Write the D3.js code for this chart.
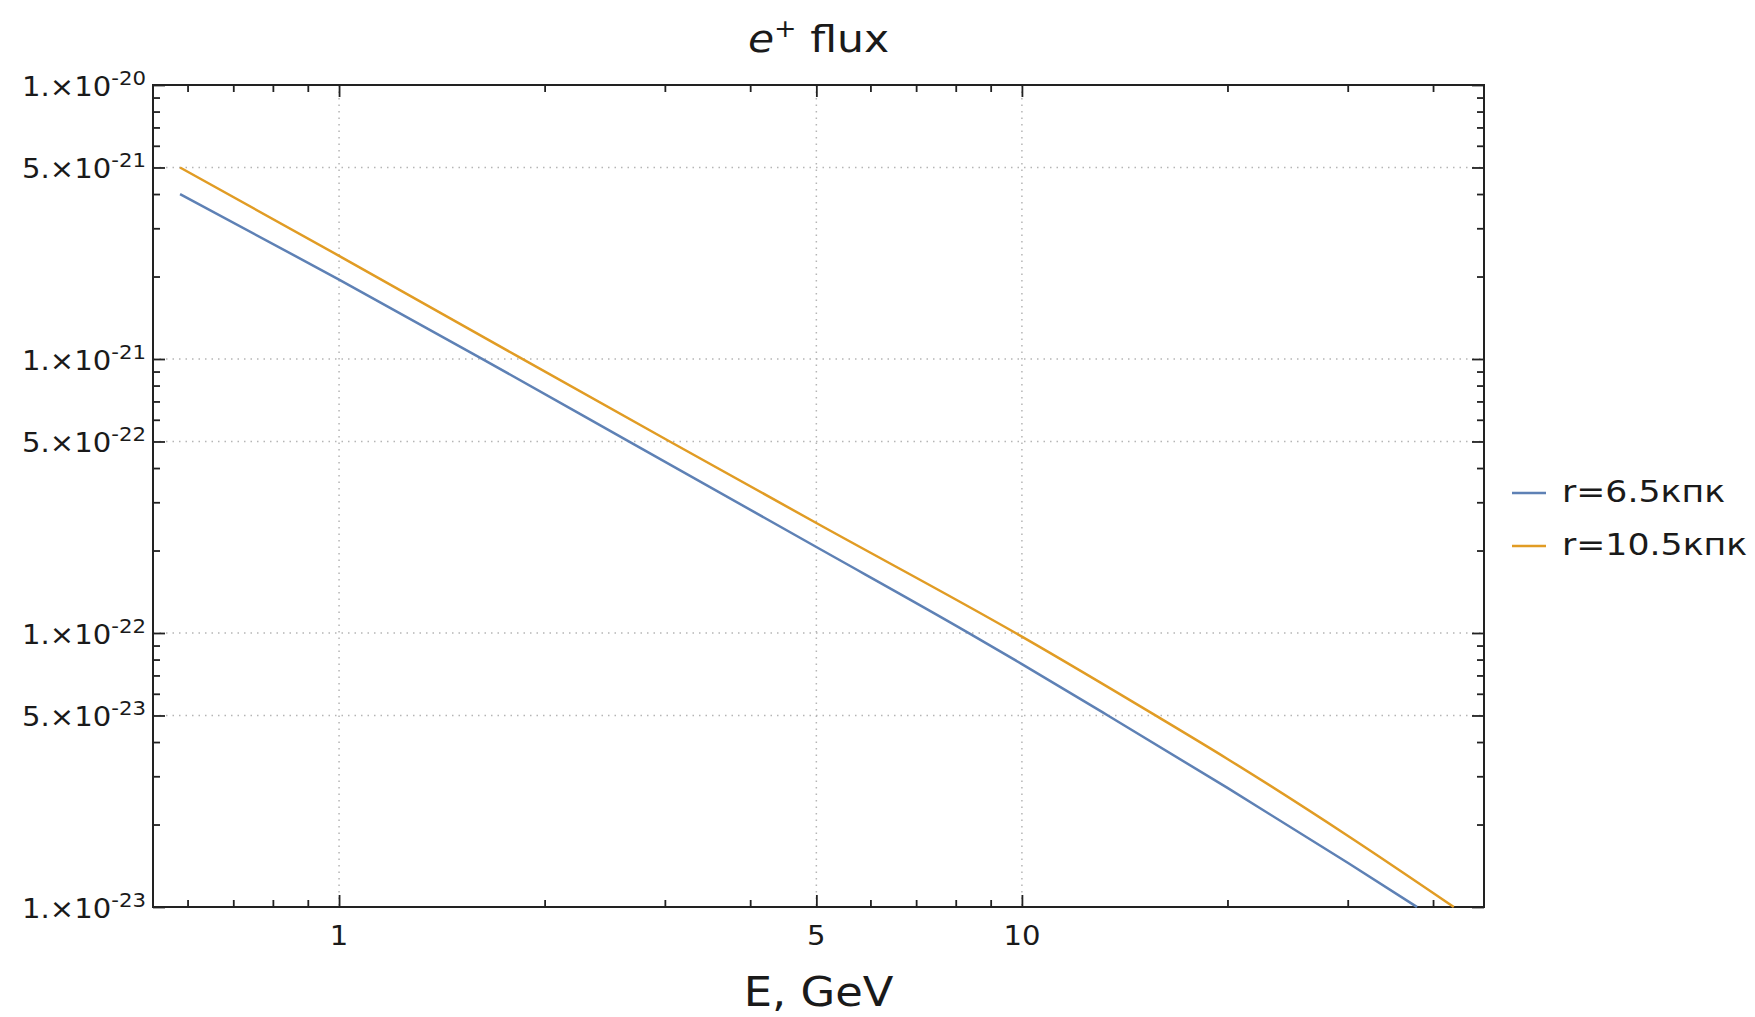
<!DOCTYPE html>
<html>
<head>
<meta charset="utf-8">
<script src="https://cdn.jsdelivr.net/npm/d3@7"></script>
<style>
  body { margin: 0; background: #fff; }
  text { font-family: 'DejaVu Sans', sans-serif; fill: #1a1a1a; }
</style>
</head>
<body>
<svg id="chart" width="1755" height="1017"></svg>
<script>
// series (E in GeV, flux)
const energyNear = [0.585, 1, 1.61, 2.64, 5, 8.3, 10, 13.4, 20, 30, 37.9];
const fluxNear = [4.0e-21, 1.95e-21, 1.01e-21, 5.05e-22, 2.06e-22, 1.01e-22, 7.7e-23, 4.98e-23, 2.72e-23, 1.45e-23, 1e-23];
const energyFar = [0.585, 1, 1.83, 3.05, 5, 10, 15.8, 20, 30, 42.9];
const fluxFar = [5.0e-21, 2.38e-21, 1.02e-21, 5e-22, 2.52e-22, 9.7e-23, 4.95e-23, 3.47e-23, 1.82e-23, 1e-23];

const seriesNames = ['r=6.5кпк', 'r=10.5кпк'];
const seriesColors = ['#5e81b5', '#e19c24'];

// tick labels
const xTickValues = [1, 5, 10];
const xTickLabels = ['1', '5', '10'];
const yTickValues = [1e-20, 5e-21, 1e-21, 5e-22, 1e-22, 5e-23, 1e-23];
const yTickMantissa = ['1.', '5.', '1.', '5.', '1.', '5.', '1.'];
const yTickExponent = ['-20', '-21', '-21', '-22', '-22', '-23', '-23'];
const xGrid = [1, 5, 10];
const yGrid = [5e-21, 1e-21, 5e-22, 1e-22, 5e-23];

const plot = { left: 153, right: 1484, top: 85, bottom: 907 };
const stretch = 1.12; // text in the reference is slightly wide

const svg = d3.select('#chart');

const x = d3.scaleLog()
  .domain([0.534, 47.5])
  .range([plot.left, plot.right]);

const y = d3.scaleLog()
  .domain([1e-23, 1e-20])
  .range([plot.bottom, plot.top]);

// minor tick positions (2..9 per decade)
const xMinor = [];
[0.1, 1, 10].forEach(d => [2, 3, 4, 6, 7, 8, 9].forEach(m => {
  const v = d * m;
  if (v > x.domain()[0] && v < x.domain()[1]) xMinor.push(v);
}));
const yMinor = [];
[1e-23, 1e-22, 1e-21].forEach(d => [2, 3, 4, 6, 7, 8, 9].forEach(m => yMinor.push(d * m)));

// grid
svg.append('g').selectAll('line')
  .data(xGrid)
  .join('line')
  .attr('x1', d => x(d)).attr('x2', d => x(d))
  .attr('y1', plot.top).attr('y2', plot.bottom)
  .attr('stroke', '#b5b5b5')
  .attr('stroke-width', 1.5)
  .attr('stroke-dasharray', '1.5,5');

svg.append('g').selectAll('line')
  .data(yGrid)
  .join('line')
  .attr('x1', plot.left).attr('x2', plot.right)
  .attr('y1', d => y(d)).attr('y2', d => y(d))
  .attr('stroke', '#b5b5b5')
  .attr('stroke-width', 1.5)
  .attr('stroke-dasharray', '1.5,5');

// ticks on all four sides, pointing inwards
function tickAxis(axis, values, size, transform) {
  const g = svg.append('g')
    .attr('transform', transform)
    .call(axis.tickValues(values).tickSize(size).tickSizeOuter(0).tickFormat(''));
  g.select('.domain').remove();
  g.selectAll('line').attr('stroke', '#222').attr('stroke-width', 1.8);
}
tickAxis(d3.axisBottom(x), xTickValues, -12, `translate(0,${plot.bottom})`);
tickAxis(d3.axisBottom(x), xMinor, -7, `translate(0,${plot.bottom})`);
tickAxis(d3.axisTop(x), xTickValues, -12, `translate(0,${plot.top})`);
tickAxis(d3.axisTop(x), xMinor, -7, `translate(0,${plot.top})`);
tickAxis(d3.axisLeft(y), yTickValues, -12, `translate(${plot.left},0)`);
tickAxis(d3.axisLeft(y), yMinor, -7, `translate(${plot.left},0)`);
tickAxis(d3.axisRight(y), yTickValues, -12, `translate(${plot.right},0)`);
tickAxis(d3.axisRight(y), yMinor, -7, `translate(${plot.right},0)`);

// frame
svg.append('rect')
  .attr('x', plot.left).attr('y', plot.top)
  .attr('width', plot.right - plot.left)
  .attr('height', plot.bottom - plot.top)
  .attr('fill', 'none')
  .attr('stroke', '#222')
  .attr('stroke-width', 2);

// curves
svg.append('clipPath').attr('id', 'clip')
  .append('rect')
  .attr('x', plot.left).attr('y', plot.top)
  .attr('width', plot.right - plot.left)
  .attr('height', plot.bottom - plot.top + 1);

const line = d3.line()
  .x(d => x(d[0]))
  .y(d => y(d[1]))
  .curve(d3.curveMonotoneX);

const series = [
  d3.zip(energyNear, fluxNear),
  d3.zip(energyFar, fluxFar)
];

svg.append('g').attr('clip-path', 'url(#clip)')
  .selectAll('path')
  .data(series)
  .join('path')
  .attr('d', line)
  .attr('fill', 'none')
  .attr('stroke', (d, i) => seriesColors[i])
  .attr('stroke-width', 2.5);

// x tick labels
svg.append('g').selectAll('text')
  .data(xTickValues)
  .join('text')
  .attr('transform', d => `translate(${x(d)},945) scale(${stretch},1)`)
  .attr('text-anchor', 'middle')
  .attr('font-size', 26)
  .text((d, i) => xTickLabels[i]);

// y tick labels: mantissa ×10 with superscript exponent
const yLabels = svg.append('g').selectAll('text')
  .data(yTickValues)
  .join('text')
  .attr('transform', d => `translate(146,${y(d) + 11}) scale(${stretch},1)`)
  .attr('text-anchor', 'end')
  .attr('font-size', 26);
yLabels.append('tspan').text((d, i) => yTickMantissa[i] + '×10');
yLabels.append('tspan')
  .attr('font-size', 19)
  .attr('dy', -11)
  .text((d, i) => yTickExponent[i]);

// title
const title = svg.append('text')
  .attr('transform', `translate(${(plot.left + plot.right) / 2},52) scale(${stretch},1)`)
  .attr('text-anchor', 'middle')
  .attr('font-size', 38);
title.append('tspan').attr('font-style', 'italic').text('e');
title.append('tspan').attr('font-size', 24).attr('dy', -15).text('+');
title.append('tspan').attr('dy', 15).text(' flux');

// x axis title
svg.append('text')
  .attr('transform', `translate(${(plot.left + plot.right) / 2},1006) scale(${stretch},1)`)
  .attr('text-anchor', 'middle')
  .attr('font-size', 40)
  .text('E, GeV');

// legend
const legend = svg.append('g').selectAll('g')
  .data(seriesNames)
  .join('g')
  .attr('transform', (d, i) => `translate(1512,${493 + i * 53})`);
legend.append('line')
  .attr('x1', 0).attr('x2', 34)
  .attr('stroke', (d, i) => seriesColors[i])
  .attr('stroke-width', 2.5);
legend.append('text')
  .attr('transform', `translate(50,9) scale(${stretch},1)`)
  .attr('font-size', 31)
  .text(d => d);
</script>
</body>
</html>
